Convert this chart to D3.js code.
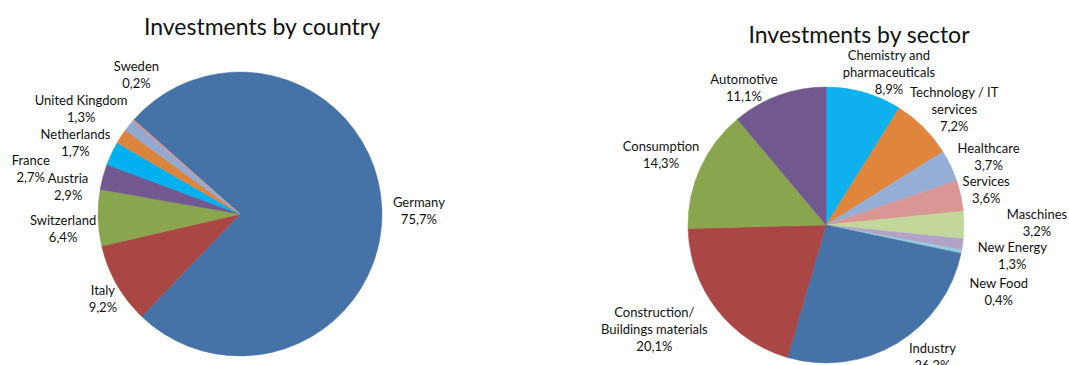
<!DOCTYPE html>
<html>
<head>
<meta charset="utf-8">
<script src="https://cdn.jsdelivr.net/npm/d3@7"></script>
<style>
  html, body { margin: 0; padding: 0; background: #fff; }
  svg { display: block; font-family: Lato, "Open Sans", sans-serif; }
</style>
</head>
<body>
<div id="chart"></div>
<script>
/* ── data ── */
const countryNames = ["Germany", "Italy", "Switzerland", "Austria", "France", "Netherlands", "United Kingdom", "Sweden"];
const countryValues = [75.7, 9.2, 6.4, 2.9, 2.7, 1.7, 1.3, 0.2];

// clockwise from 12 o'clock
const sectorNames = ["Chemistry and\npharmaceuticals", "Technology / IT\nservices", "Healthcare", "Services",
  "Maschines", "New Energy", "New Food", "Industry", "Construction/\nBuildings materials", "Consumption", "Automotive"];
const sectorValues = [8.9, 7.2, 3.7, 3.6, 3.2, 1.3, 0.4, 26.2, 20.1, 14.3, 11.1];

/* ── styling / layout ── */
const countryColors = ["#4572a7", "#aa4643", "#89a54e", "#71588f", "#00b0f0", "#db843d", "#93a9cf", "#d19392"];
const sectorColors = ["#0fb0ee", "#df853c", "#95aed6", "#d99694", "#c3d69b", "#b3a2c7", "#93cddd",
  "#4572a7", "#aa4643", "#89a54e", "#71588f"];

// label nudges from the radial position (px)
const countryNudge = [[4, 4], [15, -2], [-2, 10], [-3, 19], [-51, 30], [-18, 25], [-22, 4], [28, -24]];
const sectorNudge = [[16, 11], [8, 5], [9, 5], [-6, 1], [41, -2], [18, 7], [6, 34], [19, -14], [-37, 1], [-10, 0], [-24, 23]];

const W = 1069, H = 365;
const svg = d3.select("#chart").append("svg").attr("width", W).attr("height", H);

const fmt = d3.formatLocale({ decimal: ",", thousands: ".", grouping: [3], currency: ["", "€"] }).format(".1f");

function drawPie(opts) {
  const { names, values, colors, nudge, cx, cy, r, labelR, startDeg, title, titleX, titleY } = opts;
  const rows = names.map((n, i) => ({ name: n, value: values[i], i }));

  const pie = d3.pie().value(d => d.value).sort(null)
    .startAngle(startDeg * Math.PI / 180)
    .endAngle(startDeg * Math.PI / 180 + 2 * Math.PI);
  const arcs = pie(rows);
  const arc = d3.arc().innerRadius(0).outerRadius(r);

  const g = svg.append("g").attr("transform", `translate(${cx},${cy})`);

  g.selectAll("path").data(arcs).enter().append("path")
    .attr("d", arc)
    .attr("fill", d => colors[d.data.i])
    .attr("stroke", d => colors[d.data.i]).attr("stroke-width", 0.5);

  const lineH = 17;
  const lbl = g.selectAll(".lbl").data(arcs).enter().append("text")
    .attr("class", "lbl")
    .attr("text-anchor", "middle")
    .style("font-size", "13px").style("fill", "#111")
    .attr("transform", d => {
      const a = (d.startAngle + d.endAngle) / 2;
      const [nx, ny] = nudge[d.data.i];
      const x = labelR * Math.sin(a) + nx;
      const y = -labelR * Math.cos(a) + ny;
      return `translate(${x},${y})`;
    });

  lbl.each(function (d) {
    const lines = d.data.name.split("\n").concat([fmt(d.data.value) + "%"]);
    const t = d3.select(this);
    const y0 = -(lines.length - 1) * lineH / 2;
    lines.forEach((ln, k) => {
      t.append("tspan").attr("x", 0).attr("y", y0 + k * lineH)
        .attr("dy", "0.35em").text(ln);
    });
  });

  svg.append("text")
    .attr("x", titleX).attr("y", titleY).attr("dy", "0.35em")
    .attr("text-anchor", "middle")
    .style("font-size", "23px").style("fill", "#111")
    .text(title);
}

drawPie({
  names: countryNames, values: countryValues, colors: countryColors, nudge: countryNudge,
  cx: 240, cy: 214, r: 142, labelR: 175, startDeg: -48.4,
  title: "Investments by country", titleX: 262, titleY: 27
});

drawPie({
  names: sectorNames, values: sectorValues, colors: sectorColors, nudge: sectorNudge,
  cx: 826, cy: 225, r: 138, labelR: 170, startDeg: 0,
  title: "Investments by sector", titleX: 859, titleY: 35
});
</script>
</body>
</html>
